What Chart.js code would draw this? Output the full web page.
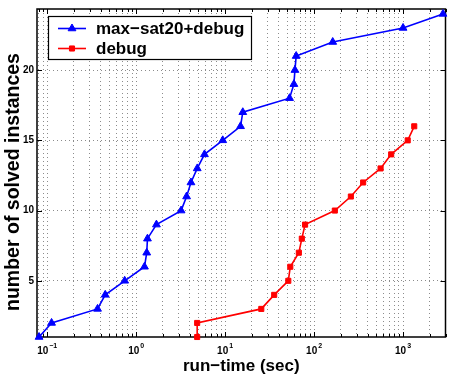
<!DOCTYPE html>
<html>
<head>
<meta charset="utf-8">
<script src="https://cdn.jsdelivr.net/npm/chart.js@4.4.1/dist/chart.umd.min.js"></script>
<style>
  html, body { margin: 0; padding: 0; background: #fff; }
</style>
</head>
<body>
<canvas id="myChart" width="451" height="377"></canvas>
<script>
// values
const solvedMaxSat = [1, 2, 3, 4, 5, 6, 7, 8, 9, 10, 11, 12, 13, 14, 15, 16, 17, 18, 19, 20, 21, 22, 23, 24];
const timeMaxSat = [0.081, 0.112, 0.368, 0.449, 0.743, 1.24, 1.315, 1.34, 1.69, 3.2, 3.69, 4.13, 4.86, 5.86, 9.4, 14.9, 15.8, 53, 59.3, 60.9, 62.9, 162, 1000, 2810];
const solvedDebug = [1, 2, 3, 4, 5, 6, 7, 8, 9, 10, 11, 12, 13, 14, 15, 16];
const timeDebug = [4.85, 4.85, 25.5, 35.6, 51.3, 54, 67.4, 72.8, 79.2, 171, 259, 356, 559, 735, 1128, 1336];

const seriesNames = ["max\u2212sat20+debug", "debug"];
const xDecades = [0.1, 1, 10, 100, 1000];
const xExponents = ["\u22121", "0", "1", "2", "3"];
const yTickValues = [5, 10, 15, 20];
const xTitle = "run\u2212time (sec)";
const yTitle = "number of solved instances";

const X_MIN = 0.0768, X_MAX = 3000;
const FONT = "'Liberation Sans', Arial, sans-serif";

function logTicks(min, max) {
  const out = [];
  for (let e = -2; e <= 4; e++) {
    for (let m = 1; m <= 9; m++) {
      const v = m * Math.pow(10, e);
      if (v >= min && v <= max) out.push({ value: v });
    }
  }
  return out;
}

const gridOpts = { color: "#8c8c8c", lineWidth: 1, drawTicks: false };
const borderOpts = { display: false, dash: [1, 3] };

const axesPlugin = {
  id: "matlabAxes",
  beforeDatasetsDraw(chart) {
    const { ctx, chartArea: a, scales } = chart;
    ctx.save();
    ctx.strokeStyle = "#000";
    ctx.lineWidth = 1;
    // inner tick marks
    ctx.beginPath();
    scales.x.ticks.forEach((t) => {
      const px = Math.round(scales.x.getPixelForValue(t.value)) + 0.5;
      const major = xDecades.includes(t.value);
      const len = major ? 5 : 3;
      ctx.moveTo(px, a.bottom); ctx.lineTo(px, a.bottom - len);
      ctx.moveTo(px, a.top); ctx.lineTo(px, a.top + len);
    });
    yTickValues.forEach((v) => {
      const py = Math.round(scales.y.getPixelForValue(v)) + 0.5;
      ctx.moveTo(a.left, py); ctx.lineTo(a.left + 5, py);
      ctx.moveTo(a.right, py); ctx.lineTo(a.right - 5, py);
    });
    ctx.stroke();
    // box
    ctx.lineWidth = 1.5;
    ctx.strokeRect(a.left, a.top, a.right - a.left, a.bottom - a.top);
    ctx.restore();
  },
  afterDatasetsDraw(chart) {
    const { ctx } = chart;
    ctx.save();
    // legend
    const lx = 48, ly = 16, lw = 203, lh = 43;
    ctx.fillStyle = "#fff";
    ctx.fillRect(lx, ly, lw, lh);
    ctx.strokeStyle = "#000";
    ctx.lineWidth = 1.2;
    ctx.strokeRect(lx + 0.5, ly + 0.5, lw, lh);
    chart.data.datasets.forEach((ds, i) => {
      const y = 28.5 + i * 20;
      ctx.strokeStyle = ds.borderColor;
      ctx.lineWidth = ds.borderWidth;
      ctx.beginPath();
      ctx.moveTo(58, y); ctx.lineTo(86, y);
      ctx.stroke();
      ctx.fillStyle = ds.borderColor;
      ctx.lineWidth = 1;
      Chart.helpers.drawPoint(ctx, { pointStyle: ds.pointStyle, radius: ds.pointRadius, borderWidth: 1, rotation: 0 }, 72, y);
      ctx.fillStyle = "#000";
      ctx.font = "bold 17px " + FONT;
      ctx.textAlign = "left";
      ctx.textBaseline = "middle";
      ctx.fillText(ds.label, 96, y + 1);
    });
    ctx.restore();
  },
  afterDraw(chart) {
    const { ctx, chartArea: a, scales } = chart;
    ctx.save();
    ctx.fillStyle = "#000";
    ctx.textBaseline = "alphabetic";
    // x tick labels with superscript exponents
    xDecades.forEach((v, i) => {
      const px = scales.x.getPixelForValue(v);
      ctx.font = "bold 10px " + FONT;
      const wb = ctx.measureText("10").width;
      ctx.font = "bold 7px " + FONT;
      const we = ctx.measureText(xExponents[i]).width;
      const x0 = px - (wb + we + 1) / 2;
      ctx.font = "bold 10px " + FONT;
      ctx.textAlign = "left";
      ctx.fillText("10", x0, 353.5);
      ctx.font = "bold 7px " + FONT;
      ctx.fillText(xExponents[i], x0 + wb + 1, 348);
    });
    // axis titles
    ctx.font = "bold 17px " + FONT;
    ctx.textAlign = "center";
    ctx.fillText(xTitle, (a.left + a.right) / 2, 371);
    ctx.save();
    ctx.translate(19, 182);
    ctx.rotate(-Math.PI / 2);
    ctx.font = "bold 19.5px " + FONT;
    ctx.fillText(yTitle, 0, 0);
    ctx.restore();
    ctx.restore();
  }
};

new Chart(document.getElementById("myChart"), {
  type: "line",
  data: {
    datasets: [
      {
        label: seriesNames[0],
        data: timeMaxSat.map((t, i) => ({ x: t, y: solvedMaxSat[i] })),
        borderColor: "#0000ff",
        backgroundColor: "#0000ff",
        borderWidth: 1.6,
        pointStyle: "triangle",
        pointRadius: 4.5,
        pointBorderWidth: 1,
        tension: 0,
        clip: 8,
      },
      {
        label: seriesNames[1],
        data: timeDebug.map((t, i) => ({ x: t, y: solvedDebug[i] })),
        borderColor: "#ff0000",
        backgroundColor: "#ff0000",
        borderWidth: 1.6,
        pointStyle: "rect",
        pointRadius: 3.6,
        pointBorderWidth: 1,
        tension: 0,
        clip: 8,
      },
    ],
  },
  options: {
    responsive: false,
    animation: false,
    layout: { padding: { top: 9, right: 1, left: 0, bottom: 0 } },
    plugins: { legend: { display: false }, tooltip: { enabled: false } },
    scales: {
      x: {
        type: "logarithmic",
        min: X_MIN,
        max: X_MAX,
        afterBuildTicks: (s) => { s.ticks = logTicks(X_MIN, X_MAX); },
        afterFit: (s) => { s.height = 40; },
        grid: gridOpts,
        border: borderOpts,
        ticks: { display: false },
      },
      y: {
        type: "linear",
        min: 1,
        max: 24.35,
        afterBuildTicks: (s) => { s.ticks = yTickValues.map((v) => ({ value: v })); },
        afterFit: (s) => { s.width = 37; },
        grid: gridOpts,
        border: borderOpts,
        ticks: { color: "#000", padding: 3, font: { family: FONT, weight: "bold", size: 10 } },
      },
    },
  },
  plugins: [axesPlugin],
});
</script>
</body>
</html>
